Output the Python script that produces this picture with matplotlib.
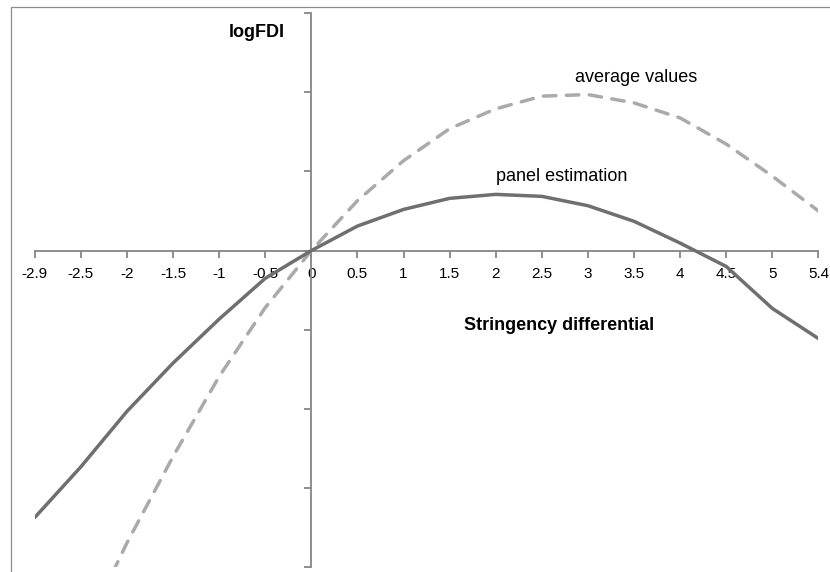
import numpy as np
import matplotlib
matplotlib.use("Agg")
import matplotlib.pyplot as plt
from matplotlib.patches import Rectangle

plt.rcParams['font.family'] = ['Liberation Sans', 'DejaVu Sans']

# stringency differential categories (evenly spaced on a category axis)
categories = ["-2.9", "-2.5", "-2", "-1.5", "-1", "-0.5", "0", "0.5", "1", "1.5",
              "2", "2.5", "3", "3.5", "4", "4.5", "5", "5.4"]

# logFDI response curves
panel_estimation = [-3.37, -2.73, -2.03, -1.42, -0.865, -0.35, 0.0, 0.31, 0.52, 0.66,
                    0.71, 0.685, 0.567, 0.37, 0.095, -0.20, -0.73, -1.11]
average_values = [-5.9, -4.9, -3.69, -2.60, -1.59, -0.72, 0.0, 0.63, 1.135, 1.54,
                  1.79, 1.95, 1.97, 1.865, 1.675, 1.345, 0.94, 0.50]

y_ticks = [-4, -3, -2, -1, 0, 1, 2, 3]

axis_col = "#868686"

fig = plt.figure(figsize=(8.3, 5.72), dpi=100)
ax = fig.add_axes([0.0418, 0.0079, 0.9443, 0.9694])

# chart frame
fig.patches.append(Rectangle((11 / 830, -0.1), 1.2, 1 - 7 / 572 + 0.1,
                             transform=fig.transFigure, fill=False,
                             edgecolor="#8c8c8c", linewidth=0.9, zorder=0))

x = np.arange(len(categories))
ax.plot(x, average_values, color="#aaaaaa", linewidth=2.5, linestyle=(0, (3.6, 3.0)),
        dash_capstyle="round", solid_capstyle="round", zorder=3)
ax.plot(x, panel_estimation, color="#6f6f6f", linewidth=2.5, solid_capstyle="round",
        zorder=4)

ax.set_xlim(0, len(categories) - 1)
ax.set_ylim(-4, 3)

# axes cross at the origin
zero_idx = categories.index("0")
ax.spines['left'].set_position(('data', zero_idx))
ax.spines['bottom'].set_position(('data', 0))
ax.spines['top'].set_visible(False)
ax.spines['right'].set_visible(False)
for s in ("left", "bottom"):
    ax.spines[s].set_color(axis_col)
    ax.spines[s].set_linewidth(1.3)
    ax.spines[s].set_zorder(2)

ax.set_xticks(x)
ax.set_xticklabels(categories)
ax.set_yticks(y_ticks)
ax.set_yticklabels([])
ax.tick_params(axis="x", direction="out", length=5, width=1.3, color=axis_col,
               labelsize=11, pad=7)
ax.tick_params(axis="y", direction="out", length=5, width=1.3, color=axis_col)

ax.text(5.43, 2.75, "logFDI", ha="right", va="center", fontsize=13, fontweight="bold")
ax.text(11.37, -0.95, "Stringency differential", ha="center", va="center",
        fontsize=13, fontweight="bold")
ax.text(13.05, 2.18, "average values", ha="center", va="center", fontsize=13)
ax.text(11.44, 0.93, "panel estimation", ha="center", va="center", fontsize=13)

fig.savefig("out.png", dpi=100)
